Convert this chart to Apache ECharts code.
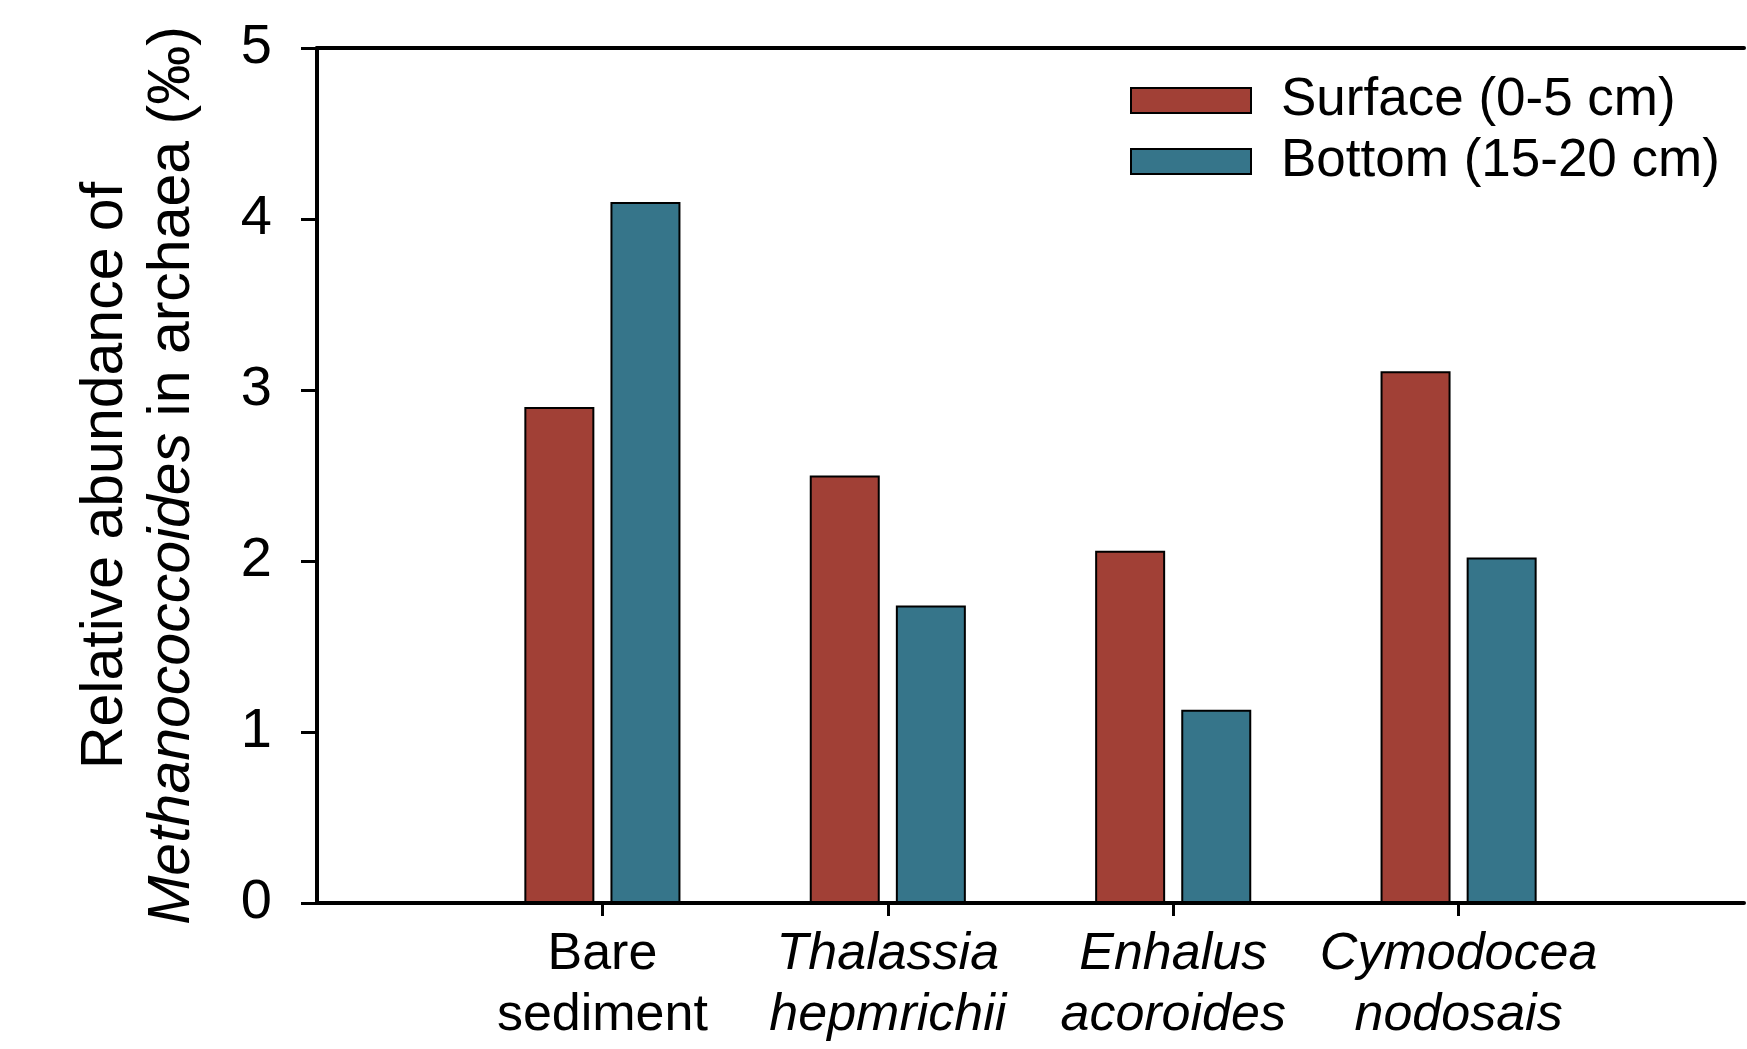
<!DOCTYPE html>
<html>
<head>
<meta charset="utf-8">
<title>Methanococcoides relative abundance</title>
<script src="https://cdn.jsdelivr.net/npm/echarts@6/dist/echarts.min.js"></script>
<style>
  html, body { margin: 0; padding: 0; background: #ffffff; }
  #chart { width: 1747px; height: 1049px; }
</style>
</head>
<body>
<div id="chart"></div>
<script>
// Habitat categories (blank slots pad the axis on both ends)
const categories = ['', 'Bare\nsediment', 'Thalassia\nhepmrichii', 'Enhalus\nacoroides', 'Cymodocea\nnodosais', ''];
const italicCategory = [false, false, true, true, true, false];

// Relative abundance of Methanococcoides in archaea (‰)
const surfaceValues = [null, 2.90, 2.50, 2.06, 3.11, null];
const bottomValues  = [null, 4.10, 1.74, 1.13, 2.02, null];

const seriesNames = ['Surface (0-5 cm)', 'Bottom (15-20 cm)'];
const yTicks = { min: 0, max: 5, interval: 1 };

const FONT = '"Liberation Sans", Arial, Helvetica, sans-serif';
const AXIS_W = 4;

const chart = echarts.init(document.getElementById('chart'), null, { renderer: 'canvas' });

const barStyle = (color) => ({
  color: color,
  borderColor: '#000000',
  borderWidth: 2
});

chart.setOption({
  backgroundColor: '#ffffff',
  animation: false,
  textStyle: { fontFamily: FONT, color: '#000000' },
  grid: { left: 317, top: 48, right: -4, bottom: 146, containLabel: false },
  legend: {
    orient: 'vertical',
    left: 1125,
    top: 69,
    itemWidth: 120,
    itemHeight: 25,
    itemGap: 8,
    icon: 'rect',
    textStyle: { fontFamily: FONT, fontSize: 53, color: '#000000', padding: [0, 0, 0, 25] },
    data: seriesNames
  },
  xAxis: [
    {
      type: 'category',
      data: categories,
      boundaryGap: false,
      axisLine: { show: true, lineStyle: { color: '#000000', width: AXIS_W } },
      axisTick: {
        show: true,
        length: 13,
        lineStyle: { color: '#000000', width: 3 },
        interval: (idx, val) => val !== ''
      },
      axisLabel: {
        show: true,
        margin: 21,
        interval: 0,
        fontFamily: FONT,
        fontSize: 52,
        lineHeight: 61,
        color: '#000000',
        formatter: (val, idx) => {
          if (!val) return '';
          const tag = italicCategory[categories.indexOf(val)] ? 'i' : 'n';
          return val.split('\n').map(s => '{' + tag + '|' + s + '}').join('\n');
        },
        rich: {
          n: { fontFamily: FONT, fontSize: 52, lineHeight: 61, color: '#000000' },
          i: { fontFamily: FONT, fontSize: 52, lineHeight: 61, fontStyle: 'italic', color: '#000000' }
        }
      },
      splitLine: { show: false }
    },
    {
      // plain frame line along the top of the plot
      type: 'category',
      position: 'top',
      data: categories,
      boundaryGap: false,
      axisLine: { show: true, lineStyle: { color: '#000000', width: AXIS_W } },
      axisTick: { show: false },
      axisLabel: { show: false },
      splitLine: { show: false }
    }
  ],
  yAxis: {
    type: 'value',
    min: yTicks.min,
    max: yTicks.max,
    interval: yTicks.interval,
    axisLine: { show: true, lineStyle: { color: '#000000', width: AXIS_W } },
    axisTick: { show: true, length: 16, lineStyle: { color: '#000000', width: 3 } },
    axisLabel: { margin: 45, fontFamily: FONT, fontSize: 56, color: '#000000' },
    splitLine: { show: false },
    name: '{n|Relative abundance of}\n{i|Methanococcoides}{n| in archaea (‰)}',
    nameLocation: 'middle',
    nameRotate: 90,
    nameGap: 111,
    nameTextStyle: {
      align: 'center',
      rich: {
        n: { fontFamily: FONT, fontSize: 59, lineHeight: 67, color: '#000000' },
        i: { fontFamily: FONT, fontSize: 59, lineHeight: 67, fontStyle: 'italic', color: '#000000' }
      }
    }
  },
  series: [
    {
      name: seriesNames[0],
      type: 'bar',
      data: surfaceValues,
      barWidth: 70,
      barGap: '23%',
      itemStyle: barStyle('#A14036')
    },
    {
      name: seriesNames[1],
      type: 'bar',
      data: bottomValues,
      barWidth: 70,
      barGap: '23%',
      itemStyle: barStyle('#36758A')
    }
  ]
});
</script>
</body>
</html>
